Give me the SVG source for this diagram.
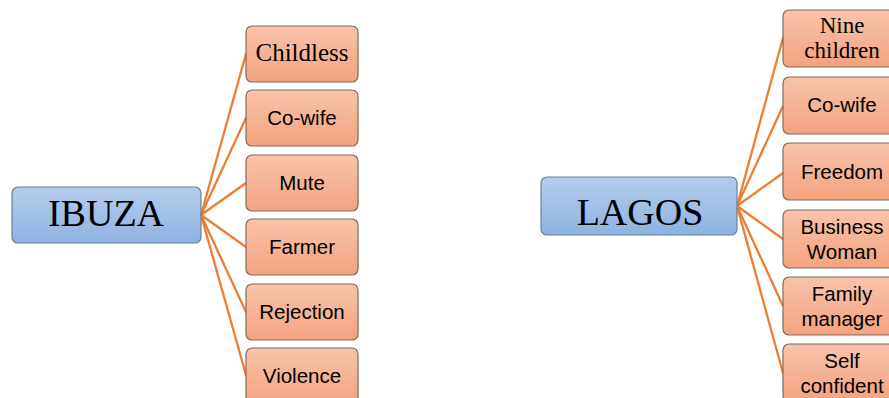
<svg xmlns="http://www.w3.org/2000/svg" width="889" height="398" viewBox="0 0 889 398">
  <defs>
    <linearGradient id="gBlue" x1="0" y1="0" x2="0" y2="1">
      <stop offset="0" stop-color="#b5cdea"/>
      <stop offset="1" stop-color="#8db3e2"/>
    </linearGradient>
    <linearGradient id="gSalmon" x1="0" y1="0" x2="0" y2="1">
      <stop offset="0" stop-color="#f9c4ab"/>
      <stop offset="1" stop-color="#f4a27e"/>
    </linearGradient>
    <style>
      .hub { fill: url(#gBlue); stroke: #6b7f96; stroke-width: 1.2; }
      .leaf { fill: url(#gSalmon); stroke: #7f6a60; stroke-width: 1.2; }
      .link { stroke: #ed7d31; stroke-width: 2.3; fill: none; stroke-linecap: round; }
      .serifBig { font-family: "Liberation Serif", "Times New Roman", serif; font-size: 38px; fill: #000; text-anchor: middle; }
      .serif { font-family: "Liberation Serif", "Times New Roman", serif; font-size: 25px; fill: #000; text-anchor: middle; }
      .sans { font-family: "Liberation Sans", Arial, sans-serif; font-size: 20.5px; fill: #000; text-anchor: middle; }
    </style>
  </defs>

  <!-- connectors -->
  <g id="connectors">
    <line class="link" x1="201" y1="215" x2="246" y2="54"/>
    <line class="link" x1="201" y1="215" x2="246" y2="118"/>
    <line class="link" x1="201" y1="215" x2="246" y2="183"/>
    <line class="link" x1="201" y1="215" x2="246" y2="247"/>
    <line class="link" x1="201" y1="215" x2="246" y2="312"/>
    <line class="link" x1="201" y1="215" x2="246" y2="375"/>
    <line class="link" x1="737" y1="206" x2="783" y2="38"/>
    <line class="link" x1="737" y1="206" x2="783" y2="106"/>
    <line class="link" x1="737" y1="206" x2="783" y2="173"/>
    <line class="link" x1="737" y1="206" x2="783" y2="239"/>
    <line class="link" x1="737" y1="206" x2="783" y2="306"/>
    <line class="link" x1="737" y1="206" x2="783" y2="373"/>
  </g>

  <!-- IBUZA branch -->
  <g id="ibuza">
    <rect class="hub" x="12" y="187" width="189" height="56" rx="6"/>
    <text class="serifBig" x="106" y="226">IBUZA</text>
  </g>
  <g id="childless">
    <rect class="leaf" x="246" y="26" width="112" height="56" rx="6"/>
    <text class="serif" x="302" y="61">Childless</text>
  </g>
  <g id="cowife-1">
    <rect class="leaf" x="246" y="90" width="112" height="56" rx="6"/>
    <text class="sans" x="302" y="125">Co-wife</text>
  </g>
  <g id="mute">
    <rect class="leaf" x="246" y="155" width="112" height="56" rx="6"/>
    <text class="sans" x="302" y="190">Mute</text>
  </g>
  <g id="farmer">
    <rect class="leaf" x="246" y="219" width="112" height="56" rx="6"/>
    <text class="sans" x="302" y="254">Farmer</text>
  </g>
  <g id="rejection">
    <rect class="leaf" x="246" y="284" width="112" height="56" rx="6"/>
    <text class="sans" x="302" y="319">Rejection</text>
  </g>
  <g id="violence">
    <rect class="leaf" x="246" y="348" width="112" height="56" rx="6"/>
    <text class="sans" x="302" y="383">Violence</text>
  </g>

  <!-- LAGOS branch -->
  <g id="lagos">
    <rect class="hub" x="541" y="177" width="196" height="58" rx="6"/>
    <text class="serifBig" x="640" y="225">LAGOS</text>
  </g>
  <g id="nine-children">
    <rect class="leaf" x="783" y="10" width="120" height="57" rx="6"/>
    <text class="serif" x="842" y="33" style="font-size:23px">Nine</text>
    <text class="serif" x="842" y="58" style="font-size:23px">children</text>
  </g>
  <g id="cowife-2">
    <rect class="leaf" x="783" y="77" width="120" height="57" rx="6"/>
    <text class="sans" x="842" y="112">Co-wife</text>
  </g>
  <g id="freedom">
    <rect class="leaf" x="783" y="143" width="120" height="57" rx="6"/>
    <text class="sans" x="842" y="179">Freedom</text>
  </g>
  <g id="business-woman">
    <rect class="leaf" x="783" y="210" width="120" height="58" rx="6"/>
    <text class="sans" x="842" y="234">Business</text>
    <text class="sans" x="842" y="259">Woman</text>
  </g>
  <g id="family-manager">
    <rect class="leaf" x="783" y="277" width="120" height="58" rx="6"/>
    <text class="sans" x="842" y="301">Family</text>
    <text class="sans" x="842" y="326">manager</text>
  </g>
  <g id="self-confident">
    <rect class="leaf" x="783" y="344" width="120" height="58" rx="6"/>
    <text class="sans" x="842" y="368">Self</text>
    <text class="sans" x="842" y="393">confident</text>
  </g>
</svg>
